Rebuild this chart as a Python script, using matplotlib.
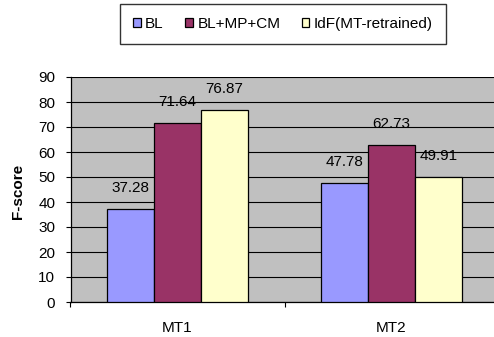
import matplotlib
matplotlib.use("Agg")
import matplotlib.pyplot as plt
import numpy as np

plt.rcParams['font.family'] = ['Liberation Sans', 'DejaVu Sans']

categories = ['MT1', 'MT2']
series_names = ['BL', 'BL+MP+CM', 'IdF(MT-retrained)']
bl = [37.28, 47.78]
bl_mp_cm = [71.64, 62.73]
idf = [76.87, 49.91]
colors = ['#9999FF', '#993366', '#FFFFCC']
yticks = [0, 10, 20, 30, 40, 50, 60, 70, 80, 90]

fs = 11
fig = plt.figure(figsize=(4.94, 3.37), dpi=100)
ax = fig.add_axes([70.5 / 494, 35 / 337, 428 / 494, 225 / 337])
ax.set_facecolor('#C0C0C0')

x = np.arange(len(categories))
w = 0.22
for i, (vals, name, col) in enumerate(zip([bl, bl_mp_cm, idf], series_names, colors)):
    pos = x + (i - 1) * w
    ax.bar(pos, vals, width=w, color=col, edgecolor='black', linewidth=0.9,
           label=name, zorder=3)
    for px, v in zip(pos, vals):
        ax.annotate(f'{v:.2f}', (px, v), xytext=(0, 15), textcoords='offset points',
                    ha='center', va='center', fontsize=fs, zorder=4)

ax.set_xlim(-0.5, 1.5)
ax.set_ylim(0, 90)
ax.set_yticks(yticks)
ax.yaxis.grid(True, color='black', linewidth=0.8, zorder=1)
ax.set_axisbelow(True)

# category boundaries get tick marks, category names sit on minor ticks
ax.set_xticks([-0.5, 0.5, 1.5])
ax.set_xticklabels([])
ax.set_xticks(x, minor=True)
ax.set_xticklabels(categories, minor=True)
ax.tick_params(axis='x', which='major', direction='out', length=3.5, width=0.8)
ax.tick_params(axis='x', which='minor', length=0, pad=14, labelsize=fs)
ax.tick_params(axis='y', direction='out', length=3.5, width=0.8, pad=7.5, labelsize=fs)

for s in ['top', 'right']:
    ax.spines[s].set_visible(False)
ax.spines['left'].set_linewidth(0.9)
ax.spines['bottom'].set_linewidth(0.9)

ax.set_ylabel('F-score', fontsize=fs, fontweight='bold')
ax.yaxis.set_label_coords(-0.107, 0.49)

leg = fig.legend(loc='upper center', bbox_to_anchor=(283 / 494, 1 - 4 / 337), ncol=3,
                 fontsize=fs, frameon=True, fancybox=False, shadow=False,
                 handlelength=0.5, handleheight=0.5, handletextpad=0.3,
                 columnspacing=1.4, borderpad=0.85, borderaxespad=0)
leg.get_frame().set_edgecolor('black')
leg.get_frame().set_linewidth(1.0)

fig.savefig('out.png', dpi=100)
